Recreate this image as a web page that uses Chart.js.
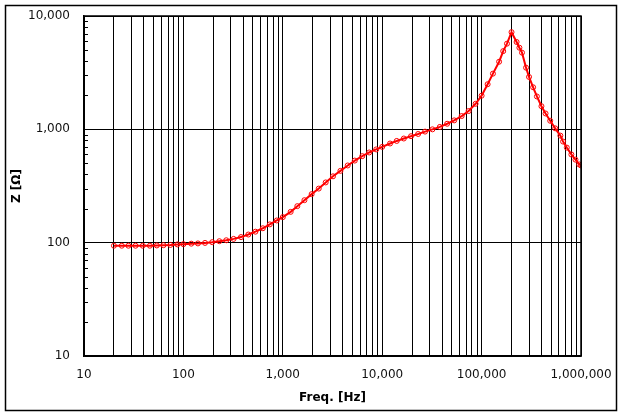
<!DOCTYPE html>
<html>
<head>
<meta charset="utf-8">
<script src="https://cdn.jsdelivr.net/npm/chart.js@4/dist/chart.umd.min.js"></script>
<style>
html,body{margin:0;padding:0;background:#fff;}
#wrap{width:623px;height:416px;}
</style>
</head>
<body>
<div id="wrap"><canvas id="c" width="623" height="416"></canvas></div>
<script>
const freqHz = [20,24,28,33,39,46,54,63,74,87,100,120,140,165,195,230,270,320,380,450,530,630,740,870,
  1000,1200,1400,1650,1950,2300,2700,3200,3800,4500,5300,6300,7400,8700,
  10000,12000,14000,16500,19500,23000,27000,32000,38000,45000,53000,63000,74000,87000,
  100000,115000,130000,150000,165000,180000,200000,225000,240000,255000,280000,300000,330000,360000,
  400000,440000,490000,550000,620000,660000,720000,800000,880000,960000,1000000];
const impedanceOhm = [94,94,94,94,94,94,94.5,95,95.5,96.5,97,98,98.5,99.5,101,103,105,108,112,118,125,134,145,157,
  168,187,210,237,268,300,340,385,430,480,530,580,625,665,
  700,750,790,830,870,910,955,1000,1050,1120,1200,1310,1450,1680,
  1980,2500,3100,3950,4900,5700,7200,5900,5250,4750,3500,2900,2350,1950,
  1600,1380,1190,1020,880,780,690,600,540,490,480];
const xMajorTicks = [10,100,1000,10000,100000,1000000];
const xMinorTicks = [20,30,40,50,60,70,80,90,200,300,400,500,600,700,800,900,
  2000,3000,4000,5000,6000,7000,8000,9000,20000,30000,40000,50000,60000,70000,80000,90000,
  200000,300000,400000,500000,600000,700000,800000,900000];
const yMajorTicks = [10,100,1000,10000];
const yMinorTicks = [20,30,40,50,60,70,80,90,200,300,400,500,600,700,800,900,2000,3000,4000,5000,6000,7000,8000,9000];

const points = freqHz.map((f,i)=>({x:f,y:impedanceOhm[i]}));
const fmt = v => Number(v).toLocaleString('en-US');

const frame = {
  id:'frame',
  beforeDraw(chart){
    const ctx=chart.ctx;
    ctx.save();
    ctx.fillStyle='#fff';
    ctx.fillRect(0,0,chart.width,chart.height);
    ctx.strokeStyle='#000';
    ctx.lineWidth=1.5;
    ctx.strokeRect(5.5,5.5,chart.width-12,chart.height-11);
    ctx.restore();
  },
  afterDraw(chart){
    const ctx=chart.ctx, y=chart.scales.y, a=chart.chartArea;
    ctx.save();
    ctx.strokeStyle='#000';
    ctx.lineWidth=1;
    ctx.beginPath();
    yMinorTicks.forEach(v=>{
      const py=Math.round(y.getPixelForValue(v))+0.5;
      ctx.moveTo(a.left,py); ctx.lineTo(a.left+4,py);
    });
    ctx.stroke();
    ctx.lineWidth=1.5;
    ctx.strokeRect(a.left,a.top,a.right-a.left,a.bottom-a.top);
    ctx.restore();
  }
};

new Chart(document.getElementById('c'),{
  type:'line',
  data:{datasets:[{
    data:points,
    borderColor:'#ff0000',
    borderWidth:2,
    pointRadius:2.5,
    pointBorderWidth:1,
    pointBorderColor:'#ff0000',
    pointBackgroundColor:'rgba(0,0,0,0)',
    tension:0
  }]},
  options:{
    responsive:false,
    animation:false,
    devicePixelRatio:1,
    layout:{padding:{left:5,top:16,right:42,bottom:5}},
    plugins:{legend:{display:false},tooltip:{enabled:false}},
    scales:{
      x:{
        type:'logarithmic',
        min:10,max:1000000,
        afterBuildTicks(s){ s.ticks=[...xMajorTicks,...xMinorTicks].sort((a,b)=>a-b).map(v=>({value:v,major:xMajorTicks.includes(v)})); },
        afterFit(s){ s.height=55; s.paddingLeft=0; s.paddingRight=0; },
        ticks:{
          autoSkip:false,maxRotation:0,padding:12,color:'#111',
          font:{family:'DejaVu Sans',size:12},
          callback:(v)=> xMajorTicks.includes(v)? fmt(v):''
        },
        grid:{color:'#000',lineWidth:1,drawTicks:false},
        border:{display:true,color:'#000',width:1.5},
        title:{display:true,text:'Freq. [Hz]',color:'#000',font:{family:'DejaVu Sans',size:12,weight:'bold'},padding:{top:0,bottom:6}}
      },
      y:{
        type:'logarithmic',
        min:10,max:10000,
        afterBuildTicks(s){ s.ticks=yMajorTicks.map(v=>({value:v,major:true})); },
        afterFit(s){ s.width=79; s.paddingTop=0; s.paddingBottom=0; },
        ticks:{
          autoSkip:false,padding:14,color:'#111',
          font:{family:'DejaVu Sans',size:12},
          callback:(v)=>fmt(v)
        },
        grid:{color:'#000',lineWidth:1,drawTicks:false},
        border:{display:true,color:'#000',width:1.5},
        title:{display:true,text:'Z [Ω]',color:'#000',font:{family:'DejaVu Sans',size:12,weight:'bold'},padding:{top:5,bottom:0}}
      }
    }
  },
  plugins:[frame]
});
</script>
</body>
</html>
